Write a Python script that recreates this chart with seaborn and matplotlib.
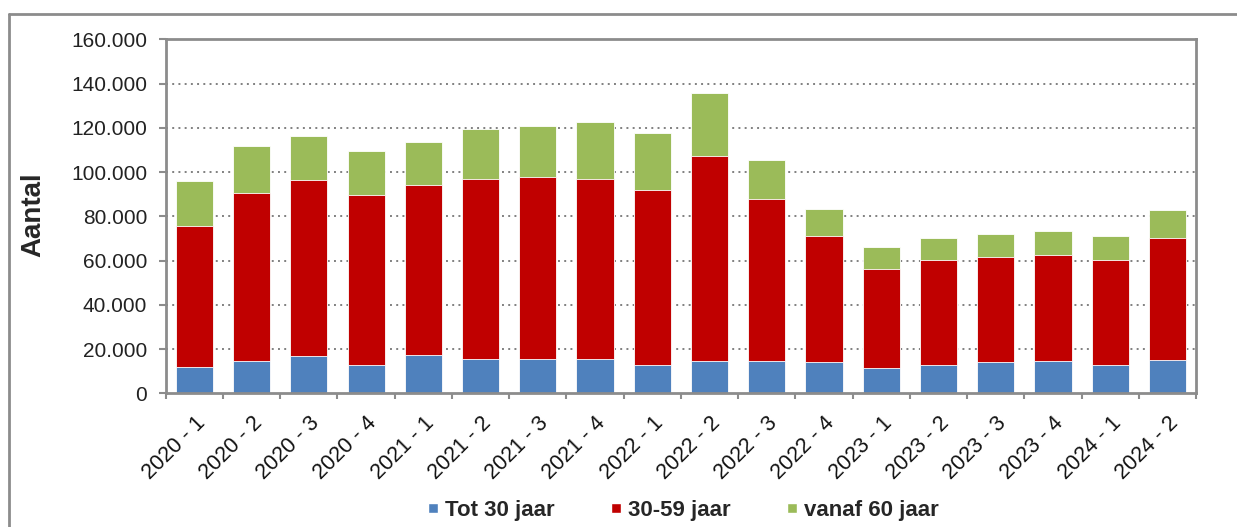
import matplotlib
matplotlib.use("Agg")
import matplotlib.pyplot as plt
import matplotlib.ticker as mticker
import matplotlib.transforms as mtransforms
from matplotlib.lines import Line2D
import pandas as pd
import seaborn as sns

# =====================================================
# DATA
# =====================================================

periods = [
    "2020 - 1", "2020 - 2", "2020 - 3", "2020 - 4",
    "2021 - 1", "2021 - 2", "2021 - 3", "2021 - 4",
    "2022 - 1", "2022 - 2", "2022 - 3", "2022 - 4",
    "2023 - 1", "2023 - 2", "2023 - 3", "2023 - 4",
    "2024 - 1", "2024 - 2",
]

tot_30 = [12000, 14600, 16900, 12700, 17500, 15600, 15600, 15600, 12800,
          14600, 14600, 14000, 11600, 12800, 14000, 14600, 12800, 15200]
jaar_30_59 = [63800, 76100, 79700, 76800, 76600, 81400, 82000, 81400, 78900,
              92700, 73100, 57000, 44400, 47400, 47500, 48100, 47400, 55100]
vanaf_60 = [20000, 21200, 19600, 20000, 19500, 22600, 23200, 25500, 26100,
            28300, 17600, 12400, 10100, 10100, 10600, 10700, 10800, 12400]

series_names = ["Tot 30 jaar", "30-59 jaar", "vanaf 60 jaar"]
colors = ["#4F81BD", "#C00000", "#9BBB59"]

df = pd.DataFrame({
    "periode": periods,
    "tot30": tot_30,
    "mid": jaar_30_59,
    "oud": vanaf_60,
})
df["cum_blue"] = df["tot30"]
df["cum_red"] = df["tot30"] + df["mid"]
df["cum_green"] = df["cum_red"] + df["oud"]

# =====================================================
# STYLE
# =====================================================

sns.set_style("white")
plt.rcParams["font.family"] = ["Liberation Sans", "DejaVu Sans"]

fig = plt.figure(figsize=(12.37, 5.27), dpi=100)
ax = fig.add_axes([0.134, 0.2537, 0.833, 0.6717])

frame_col = "#8C8C8C"

# stacked bars: draw cumulative totals from top to bottom
for col, c in zip(["cum_green", "cum_red", "cum_blue"], colors[::-1]):
    sns.barplot(
        data=df, x="periode", y=col, color=c, width=0.65,
        edgecolor="white", linewidth=0.6, saturation=1, ax=ax,
    )

ax.set_ylim(0, 160000)
ax.set_xlim(-0.5, len(periods) - 0.5)
ax.set_yticks(range(0, 160001, 20000))
ax.yaxis.set_major_formatter(
    mticker.FuncFormatter(lambda v, p: f"{v:,.0f}".replace(",", "."))
)

# dotted grid lines
for v in range(20000, 160000, 20000):
    ax.axhline(v, color="#808080", linestyle=(0, (1, 2.2)), linewidth=1.4, zorder=0)
ax.set_axisbelow(True)

for s in ax.spines.values():
    s.set_visible(True)
    s.set_color(frame_col)
    s.set_linewidth(2)

# x ticks between the categories, labels under the bars
ax.set_xticks([i - 0.5 for i in range(len(periods) + 1)], minor=False)
ax.set_xticklabels([])
ax.set_xticks(range(len(periods)), minor=True)
ax.set_xticklabels(periods, minor=True, rotation=45, ha="right",
                   rotation_mode="anchor", fontsize=15.5, color="#111111")
shift = mtransforms.ScaledTranslation(-0.05, 0, fig.dpi_scale_trans)
for lab in ax.get_xticklabels(minor=True):
    lab.set_transform(lab.get_transform() + shift)
ax.tick_params(axis="x", which="major", direction="out", length=4,
               width=1.5, color=frame_col, bottom=True)
ax.tick_params(axis="x", which="minor", length=0, pad=14)
ax.tick_params(axis="y", direction="out", length=5, width=1.5, pad=8.5,
               color=frame_col, left=True, labelsize=15, labelcolor="#222222")

ax.set_xlabel("")
ax.set_ylabel("")
fig.text(0.027, 0.592, "Aantal", rotation=90, fontsize=20,
         fontweight="bold", ha="center", va="center")

# legend
handles = [
    Line2D([], [], marker="s", linestyle="none", markersize=7.5,
           markerfacecolor=c, markeredgecolor="white")
    for c in colors
]
fig.legend(handles, series_names, loc="center", bbox_to_anchor=(0.552, 0.032),
           ncol=3, frameon=False, handlelength=0.5, handletextpad=0.3,
           columnspacing=2.5, prop={"weight": "bold", "size": 16})

# outer gray border of the chart area
fig.add_artist(Line2D([9 / 1237, 9 / 1237], [0, 1 - 14 / 527],
                      transform=fig.transFigure, color=frame_col, linewidth=2))
fig.add_artist(Line2D([9 / 1237, 1], [1 - 14 / 527, 1 - 14 / 527],
                      transform=fig.transFigure, color=frame_col, linewidth=2))

fig.savefig("out.png", dpi=100)
